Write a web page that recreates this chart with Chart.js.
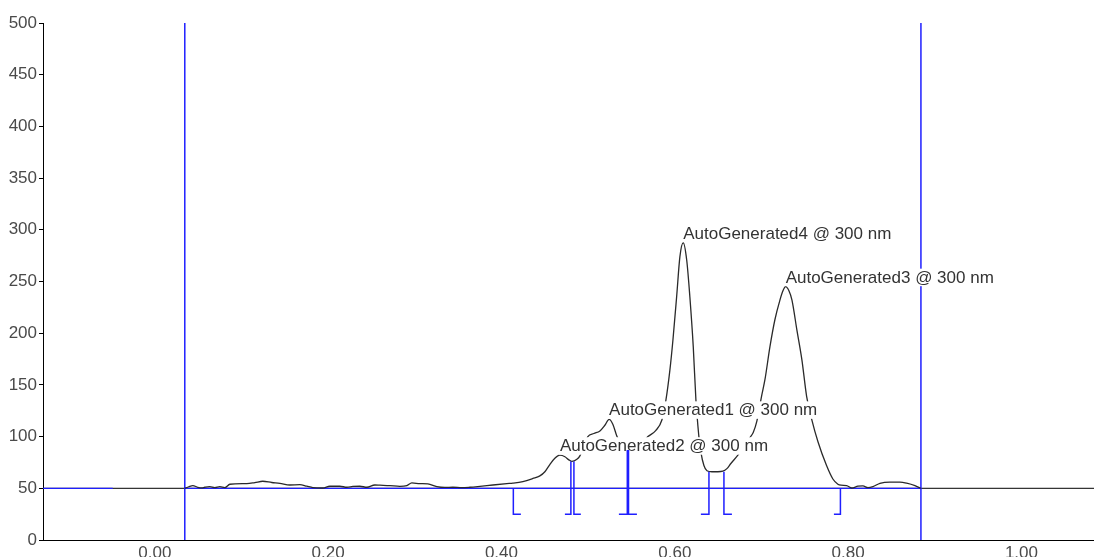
<!DOCTYPE html>
<html>
<head>
<meta charset="utf-8">
<script src="https://cdn.jsdelivr.net/npm/chart.js@4.4.1/dist/chart.umd.min.js"></script>
<style>
  html, body { margin: 0; padding: 0; background: #fff; }
  #wrap { width: 1094px; height: 557px; }
</style>
</head>
<body>
<div id="wrap"><canvas id="chromatogram" width="1094" height="557"></canvas></div>
<script>
// Axis ticks
const xTicks = [0.00, 0.20, 0.40, 0.60, 0.80, 1.00];
const yTicks = [0, 50, 100, 150, 200, 250, 300, 350, 400, 450, 500];
const xRange = [-0.129, 1.0837];
const yRange = [0, 500];

// Detector trace (time, signal)
const traceTime = [
  0.0346, 0.0392, 0.0439, 0.0496, 0.0542, 0.0577, 0.0635, 0.0692, 0.0750, 0.0808,
  0.0866, 0.1062, 0.1154, 0.1246, 0.1350, 0.1443, 0.1558, 0.1673, 0.1754, 0.1823,
  0.1939, 0.2020, 0.2135, 0.2216, 0.2285, 0.2366, 0.2447, 0.2539, 0.2597, 0.2712,
  0.2827, 0.2908, 0.2966, 0.3058, 0.3151, 0.3254, 0.3347, 0.3439, 0.3543, 0.3635,
  0.3751, 0.3901, 0.4062, 0.4132, 0.4247, 0.4363, 0.4443, 0.4501, 0.4558, 0.4616,
  0.4674, 0.4732, 0.4778, 0.4812, 0.4870, 0.4905, 0.4951, 0.4997, 0.5066, 0.5136,
  0.5193, 0.5242, 0.5285, 0.5331, 0.5389, 0.5459, 0.5551, 0.5632, 0.5690, 0.5782,
  0.5851, 0.5897, 0.5943, 0.5978, 0.6021, 0.6059, 0.6097, 0.6137, 0.6174, 0.6213,
  0.6244, 0.6261, 0.6278, 0.6301, 0.6336, 0.6371, 0.6428, 0.6497, 0.6555, 0.6601,
  0.6647, 0.6728, 0.6797, 0.6866, 0.6905, 0.6947, 0.7001, 0.7040, 0.7098, 0.7155,
  0.7213, 0.7248, 0.7279, 0.7317, 0.7352, 0.7409, 0.7467, 0.7521, 0.7582, 0.7652,
  0.7751, 0.7824, 0.7882, 0.7917, 0.7983, 0.8041, 0.8113, 0.8171, 0.8229, 0.8286,
  0.8367, 0.8482, 0.8598, 0.8675, 0.8771, 0.8837
];
const traceSignal = [
  50.0, 51.5, 52.6, 51.0, 50.4, 51.0, 51.6, 50.6, 51.6, 50.7,
  53.9, 54.5, 55.5, 56.8, 55.6, 54.8, 53.2, 53.5, 52.0, 50.7,
  50.3, 52.0, 52.0, 51.0, 51.8, 52.0, 51.0, 53.2, 53.0, 52.6,
  51.9, 52.6, 55.2, 54.5, 54.2, 51.6, 50.8, 51.0, 50.6, 51.0,
  51.9, 53.2, 54.5, 55.0, 56.5, 59.5, 62.0, 66.0, 73.0, 79.0,
  82.0, 80.5, 77.5, 76.0, 78.0, 81.3, 91.0, 100.0, 103.0, 105.5,
  111.0, 116.7, 112.0, 100.6, 91.0, 87.0, 89.0, 95.0, 100.0, 106.0,
  116.0, 135.0, 164.0, 193.0, 235.0, 274.0, 287.5, 271.0, 235.0, 187.0,
  135.0, 116.0, 100.0, 85.0, 72.0, 67.0, 66.0, 66.0, 66.5, 69.0,
  74.0, 82.0, 90.0, 99.0, 104.0, 115.0, 139.0, 155.0, 187.0, 213.0,
  232.0, 241.0, 245.0, 241.0, 232.0, 203.0, 174.0, 139.0, 116.0, 95.0,
  72.0, 59.0, 54.0, 53.0, 52.6, 50.3, 52.0, 52.3, 50.6, 51.6,
  54.8, 56.0, 56.0, 55.0, 52.6, 50.0
];

// Named peaks (apex time and signal)
const peakNames = [
  'AutoGenerated2 @ 300 nm',
  'AutoGenerated1 @ 300 nm',
  'AutoGenerated4 @ 300 nm',
  'AutoGenerated3 @ 300 nm'
];
const peakTime = [0.4674, 0.5242, 0.6097, 0.7279];
const peakSignal = [82.0, 116.7, 287.5, 245.0];

// Integration markers: drop line position, top of the drop, foot direction end
const markerTime = [0.4137, 0.4801, 0.4836, 0.5452, 0.5466, 0.6394, 0.6567, 0.7911];
const markerTop  = [50, 76, 76, 87, 87, 66, 66, 50];
const markerFoot = [0.4224, 0.4732, 0.4916, 0.5355, 0.5563, 0.6301, 0.6659, 0.7836];
const markerBase = 25;

// Integration window and baseline
const windowStart = 0.0346;
const windowEnd = 0.8840;
const baselineLevel = 50;
const leftBaselineEnd = -0.0485;

const BLUE = '#1f1fff';
const FONT = '"Liberation Sans", Arial, Helvetica, sans-serif';

const traceData = traceTime.map((t, i) => ({ x: t, y: traceSignal[i] }));

function segment(points, color, width, order) {
  return {
    type: 'scatter', data: points, showLine: true, borderColor: color,
    borderWidth: width, pointRadius: 0, pointHoverRadius: 0, fill: false,
    tension: 0, order: order
  };
}

const datasets = [];
datasets.push(segment([{ x: xRange[0], y: baselineLevel }, { x: xRange[1], y: baselineLevel }], '#000', 1, 20));
datasets.push(segment([{ x: xRange[0], y: baselineLevel }, { x: leftBaselineEnd, y: baselineLevel }], BLUE, 1.2, 19));
datasets.push(segment([{ x: windowStart, y: baselineLevel }, { x: windowEnd, y: baselineLevel }], BLUE, 1.2, 18));
datasets.push(segment([{ x: windowStart, y: yRange[0] }, { x: windowStart, y: yRange[1] }], BLUE, 1.5, 17));
datasets.push(segment([{ x: windowEnd, y: yRange[0] }, { x: windowEnd, y: yRange[1] }], BLUE, 1.5, 16));

const trace = {
  type: 'scatter', data: traceData, showLine: true, borderColor: '#2a2a2a',
  borderWidth: 1.3, pointRadius: 0, pointHoverRadius: 0, fill: false,
  cubicInterpolationMode: 'monotone', order: 10, isTrace: true
};
datasets.push(trace);

markerTime.forEach((t, i) => {
  datasets.push(segment([
    { x: t, y: markerTop[i] },
    { x: t, y: markerBase },
    { x: markerFoot[i], y: markerBase }
  ], BLUE, 1.5, 1));
});

// Peak names drawn on an opaque box right after the trace
const peakLabels = {
  id: 'peakLabels',
  afterDatasetDraw(chart, args) {
    const ds = chart.data.datasets[args.index];
    if (!ds.isTrace) return;
    const ctx = chart.ctx;
    const xs = chart.scales.x, ys = chart.scales.y;
    ctx.save();
    ctx.font = '17px ' + FONT;
    ctx.textAlign = 'left';
    ctx.textBaseline = 'alphabetic';
    peakNames.forEach((name, i) => {
      const px = xs.getPixelForValue(peakTime[i]);
      const py = ys.getPixelForValue(peakSignal[i]) - 4;
      const w = ctx.measureText(name).width;
      ctx.fillStyle = '#fff';
      ctx.fillRect(px - 1, py - 14, w + 2, 17.5);
      ctx.fillStyle = '#333';
      ctx.fillText(name, px, py);
    });
    ctx.restore();
  }
};

new Chart(document.getElementById('chromatogram'), {
  type: 'scatter',
  data: { datasets },
  options: {
    responsive: false,
    devicePixelRatio: 1,
    animation: false,
    layout: { padding: { top: 23, right: 0, left: 0, bottom: 0 } },
    plugins: { legend: { display: false }, tooltip: { enabled: false } },
    scales: {
      x: {
        type: 'linear', min: xRange[0], max: xRange[1],
        afterBuildTicks: s => { s.ticks = xTicks.map(v => ({ value: v })); },
        afterFit: s => { s.height = 17; },
        grid: { display: false, drawTicks: false, tickLength: 0 },
        border: { display: true, color: '#000', width: 1 },
        ticks: {
          padding: 3, color: '#4a4a4a', font: { size: 17, family: FONT },
          maxRotation: 0, autoSkip: false,
          callback: v => Number(v).toFixed(2)
        }
      },
      y: {
        type: 'linear', min: yRange[0], max: yRange[1],
        afterBuildTicks: s => { s.ticks = yTicks.map(v => ({ value: v })); },
        afterFit: s => { s.width = 43; },
        grid: { display: true, drawOnChartArea: false, drawTicks: true, tickLength: 4, color: '#000' },
        border: { display: true, color: '#000', width: 1 },
        ticks: {
          padding: 2, color: '#4a4a4a', font: { size: 17, family: FONT },
          autoSkip: false, callback: v => String(v)
        }
      }
    }
  },
  plugins: [peakLabels]
});
</script>
</body>
</html>
